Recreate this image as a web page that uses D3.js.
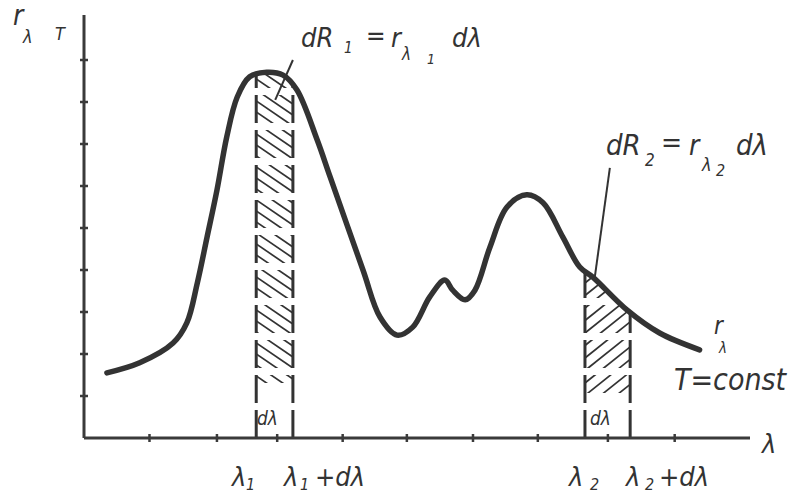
<!DOCTYPE html>
<html>
<head>
<meta charset="utf-8">
<script src="https://cdn.jsdelivr.net/npm/d3@7"></script>
<style>
  body { margin: 0; background: #fff; }
  svg { display: block; }
  text { font-family: "DejaVu Sans Condensed", "Liberation Sans Narrow", sans-serif; font-style: italic; fill: #333; }
</style>
</head>
<body>
<svg id="chart"></svg>
<script>
// spectral curve r(lambda) at T = const (axis units)
var lambdaVals = [0.35, 0.85, 1.36, 1.57, 1.73, 1.88, 2.03, 2.18, 2.34, 2.53, 2.79, 3.04, 3.25, 3.56, 3.76, 4.26, 4.52, 4.78, 5.02, 5.28, 5.51, 5.63, 5.82, 5.97, 6.20, 6.46, 6.76, 7.01, 7.31, 7.57, 7.77, 8.29, 8.79, 9.40];
var rVals = [1.55, 1.79, 2.26, 2.74, 3.69, 4.79, 5.90, 7.17, 8.12, 8.60, 8.71, 8.64, 8.29, 7.10, 6.21, 4.00, 2.88, 2.45, 2.64, 3.36, 3.76, 3.52, 3.29, 3.52, 4.55, 5.50, 5.79, 5.60, 4.79, 4.07, 3.83, 3.05, 2.50, 2.10];

var xTickVals = [1.0, 2.03, 2.95, 3.95, 4.93, 5.94, 6.93, 8.0, 9.02];
var yTickVals = [1, 2, 3, 4, 5, 6, 7, 8, 9];

// the two strips d(lambda) and where their hatching stops
var stripNames = ["s1", "s2"];
var stripFrom = [2.63, 7.65];
var stripTo = [3.19, 8.34];
var hatchBottom = [1.31, 1.07];
var hatchDir = [1, -1];   // 1 = "\\", -1 = "/"

// leader lines from the formulas to the strips
var leaderFrom = [[3.19, 9.0], [8.03, 6.43]];
var leaderTo = [[2.92, 8.05], [7.80, 3.83]];

var W = 806, H = 495;
var ink = "#333";

var svg = d3.select("#chart").attr("width", W).attr("height", H);

var x = d3.scaleLinear().domain([0, 10.17]).range([84, 750]);
var y = d3.scaleLinear().domain([0, 10]).range([438, 18]);

var pts = lambdaVals.map(function(d, i) { return [d, rVals[i]]; });

var line = d3.line()
  .x(function(d) { return x(d[0]); })
  .y(function(d) { return y(d[1]); })
  .curve(d3.curveCatmullRom.alpha(0.5));

var area = d3.area()
  .x(function(d) { return x(d[0]); })
  .y0(y(0))
  .y1(function(d) { return y(d[1]); })
  .curve(d3.curveCatmullRom.alpha(0.5));

var defs = svg.append("defs");
defs.append("clipPath").attr("id", "under").append("path").attr("d", area(pts));

var dash = 28, gap = 7;

stripNames.forEach(function(name, i) {
  var xa = x(stripFrom[i]), xb = x(stripTo[i]);
  defs.append("clipPath").attr("id", "box-" + name)
    .append("rect")
    .attr("x", xa).attr("y", 0)
    .attr("width", xb - xa).attr("height", y(hatchBottom[i]));

  // horizontal bands that follow the dashes of the borders
  var bands = d3.range(0, 14);
  defs.append("clipPath").attr("id", "bands-" + name)
    .selectAll("rect").data(bands).enter().append("rect")
    .attr("x", xa - 2)
    .attr("width", xb - xa + 4)
    .attr("y", function(k) { return y(0) - k * (dash + gap) - dash; })
    .attr("height", dash);
});

// hatching
stripNames.forEach(function(name, i) {
  var xa = x(stripFrom[i]), xb = x(stripTo[i]);
  var w = xb - xa;
  var slope = i == 0 ? 0.68 : 0.8;
  var step = i == 0 ? 11 : 12.5;
  var starts = d3.range(y(10) - 60, y(0) + 60, step);

  svg.append("g").attr("clip-path", "url(#under)")
    .append("g").attr("clip-path", "url(#box-" + name + ")")
    .append("g").attr("clip-path", "url(#bands-" + name + ")")
    .selectAll("line").data(starts).enter().append("line")
    .attr("x1", xa).attr("y1", function(s) { return s; })
    .attr("x2", xb).attr("y2", function(s) { return s + hatchDir[i] * slope * w; })
    .attr("stroke", ink).attr("stroke-width", 1.7);
});

// dashed borders of the strips
var borders = svg.append("g").attr("clip-path", "url(#under)");
stripNames.forEach(function(name, i) {
  [stripFrom[i], stripTo[i]].forEach(function(v) {
    borders.append("line")
      .attr("x1", x(v)).attr("x2", x(v))
      .attr("y1", y(0)).attr("y2", y(10))
      .attr("stroke", ink).attr("stroke-width", 3)
      .attr("stroke-dasharray", dash + "," + gap);
  });
});

// axes
var axes = svg.append("g").attr("stroke", "#3a3a3a").attr("fill", "none");
axes.append("line")
  .attr("x1", x(0)).attr("x2", x(0)).attr("y1", y(0)).attr("y2", y(10.07))
  .attr("stroke-width", 3);
axes.append("line")
  .attr("x1", x(0)).attr("x2", x(10.17)).attr("y1", y(0)).attr("y2", y(0))
  .attr("stroke-width", 3);
axes.selectAll(".yt").data(yTickVals).enter().append("line")
  .attr("x1", x(0) - 4).attr("x2", x(0) + 4)
  .attr("y1", function(d) { return y(d); }).attr("y2", function(d) { return y(d); })
  .attr("stroke-width", 2.5);
axes.selectAll(".xt").data(xTickVals).enter().append("line")
  .attr("y1", y(0) - 4).attr("y2", y(0) + 4)
  .attr("x1", function(d) { return x(d); }).attr("x2", function(d) { return x(d); })
  .attr("stroke-width", 2.5);

// the curve
svg.append("path")
  .attr("d", line(pts))
  .attr("fill", "none")
  .attr("stroke", ink)
  .attr("stroke-width", 5.5)
  .attr("stroke-linecap", "round");

// leaders
svg.selectAll(".leader").data(leaderFrom).enter().append("line")
  .attr("x1", function(d) { return x(d[0]); })
  .attr("y1", function(d) { return y(d[1]); })
  .attr("x2", function(d, i) { return x(leaderTo[i][0]); })
  .attr("y2", function(d, i) { return y(leaderTo[i][1]); })
  .attr("stroke", ink).attr("stroke-width", 2);

// text pieces: [text, x, y, size]
function put(pieces) {
  pieces.forEach(function(p) {
    svg.append("text").attr("x", p[1]).attr("y", p[2])
      .attr("font-size", p[3]).text(p[0]);
  });
}

put([
  ["r", 13, 25, 28], ["λ", 23, 43, 18], ["T", 55, 40, 18],
  ["dR", 301, 47, 27], ["1", 344, 53, 15], ["=", 366, 45, 26], ["r", 391, 47, 27], ["λ", 402, 60, 17], ["1", 427, 64, 14], ["dλ", 452, 47, 27],
  ["dR", 606, 155, 29], ["2", 645, 166, 17], ["=", 661, 152, 28], ["r", 689, 155, 28], ["λ", 702, 171, 18], ["2", 716, 176, 16], ["dλ", 736, 155, 29],
  ["λ", 762, 453, 27],
  ["λ", 232, 486, 27], ["1", 246, 490, 16],
  ["λ", 284, 486, 27], ["1", 300, 490, 16], ["+dλ", 315, 486, 27],
  ["λ", 569, 486, 27], ["2", 590, 490, 16],
  ["λ", 626, 486, 27], ["2", 645, 490, 16], ["+dλ", 659, 486, 27],
  ["r", 714, 334, 24], ["λ", 719, 353, 15],
  ["T=const", 674, 390, 30],
  ["dλ", 257, 425, 19], ["dλ", 590, 425, 19]
]);
</script>
</body>
</html>
